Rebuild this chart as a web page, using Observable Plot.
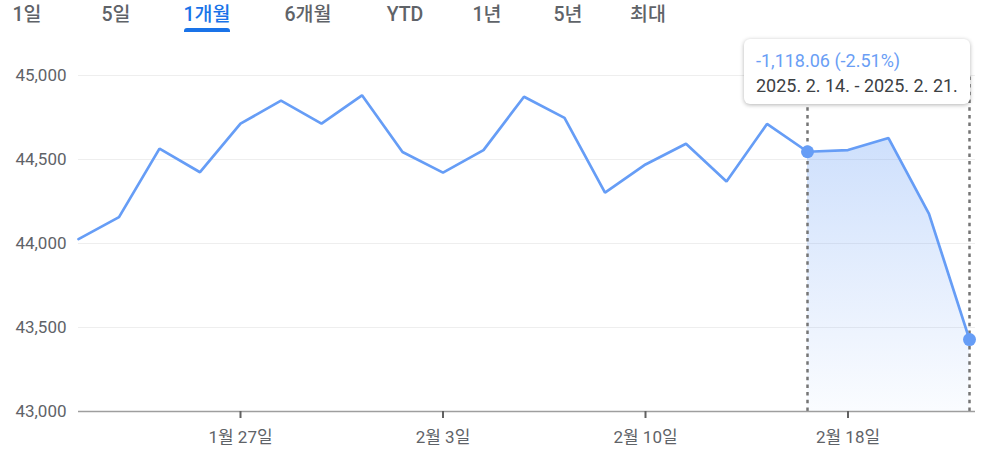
<!DOCTYPE html>
<html>
<head>
<meta charset="utf-8">
<script src="https://cdn.jsdelivr.net/npm/d3@7"></script>
<script src="https://cdn.jsdelivr.net/npm/@observablehq/plot@0.6"></script>
<style>
  html, body { margin: 0; padding: 0; background: #fff; }
  body { width: 987px; height: 456px; position: relative; overflow: hidden;
         font-family: Roboto, "Noto Sans CJK KR", sans-serif; }
  #tabs { position: relative; height: 40px; }
  .tab { position: absolute; top: 3px; font-size: 19.5px; color: #5f6368; font-weight: 500;
         transform: translateX(-50%); white-space: nowrap; line-height: 24px; }
  .tab.sel { color: #1a73e8; }
  #underline { position: absolute; left: 184px; top: 28px; width: 46px; height: 4px;
               background: #1a73e8; border-radius: 3px 3px 0 0; }
  #tip { position: absolute; left: 744px; top: 39px; width: 226px; height: 65px;
         background: #fff; border-radius: 6px; box-shadow: 0 1px 4px rgba(0,0,0,0.3);
         box-sizing: border-box; padding: 9px 0 0 12px; font-size: 18px; line-height: 25px; }
  #tip .chg { color: #6a9ef5; }
  #tip .rng { color: #3c4043; }
</style>
</head>
<body>
<div id="tabs"></div>
<div id="chart"></div>
<div id="tip"><div class="chg"></div><div class="rng"></div></div>
<script>
// ---- data ----
const tabs = ["1일", "5일", "1개월", "6개월", "YTD", "1년", "5년", "최대"];
const tabCenters = [27, 116, 207, 308, 405, 487, 568, 648];
const selectedTab = "1개월";

const dates = ["2025-01-21","2025-01-22","2025-01-23","2025-01-24","2025-01-27","2025-01-28",
  "2025-01-29","2025-01-30","2025-01-31","2025-02-03","2025-02-04","2025-02-05","2025-02-06",
  "2025-02-07","2025-02-10","2025-02-11","2025-02-12","2025-02-13","2025-02-14","2025-02-18",
  "2025-02-19","2025-02-20","2025-02-21"];
const closes = [44025.81, 44156.73, 44565.07, 44424.25, 44713.58, 44850.35, 44713.52, 44882.13,
  44544.66, 44421.91, 44556.04, 44873.28, 44747.63, 44303.40, 44470.41, 44593.65, 44368.56,
  44711.43, 44546.08, 44556.34, 44627.59, 44176.65, 43428.02];

const xTickDates = ["2025-01-27", "2025-02-03", "2025-02-10", "2025-02-18"];
const xTickLabels = ["1월 27일", "2월 3일", "2월 10일", "2월 18일"];
const yTicks = [43000, 43500, 44000, 44500, 45000];

const rangeStart = "2025-02-14";
const rangeEnd = "2025-02-21";
const tipChange = "-1,118.06 (-2.51%)";
const tipRange = "2025. 2. 14. - 2025. 2. 21.";

// ---- tabs ----
const tabsDiv = document.getElementById("tabs");
tabs.forEach((t, i) => {
  const d = document.createElement("div");
  d.className = "tab" + (t === selectedTab ? " sel" : "");
  d.style.left = tabCenters[i] + "px";
  d.textContent = t;
  tabsDiv.appendChild(d);
});
const ul = document.createElement("div"); ul.id = "underline"; tabsDiv.appendChild(ul);

document.querySelector("#tip .chg").textContent = tipChange;
document.querySelector("#tip .rng").textContent = tipRange;

// ---- chart ----
const data = dates.map((d, i) => ({i, date: d, close: closes[i]}));
const iStart = dates.indexOf(rangeStart), iEnd = dates.indexOf(rangeEnd);
const areaData = data.filter(d => d.i >= iStart && d.i <= iEnd);
const sel = [data[iStart], data[iEnd]];
const tickIdx = xTickDates.map(d => dates.indexOf(d));

const blue = "#669df6";
const defs = () => {
  const g = d3.create("svg:defs");
  const lg = g.append("linearGradient").attr("id", "areaGrad")
    .attr("x1", 0).attr("y1", 0).attr("x2", 0).attr("y2", 1);
  lg.append("stop").attr("offset", "0%").attr("stop-color", "#669df6").attr("stop-opacity", 0.32);
  lg.append("stop").attr("offset", "100%").attr("stop-color", "#669df6").attr("stop-opacity", 0.03);
  return g.node();
};

const chart = Plot.plot({
  width: 987,
  height: 416,
  marginLeft: 78,
  marginRight: 12,
  marginTop: 35,
  marginBottom: 45,
  style: {fontFamily: "Roboto, 'Noto Sans CJK KR', sans-serif", fontSize: "17px", color: "#5f6368", background: "#fff"},
  x: {domain: [0, dates.length - 1], range: [78, 969], label: null},
  y: {domain: [43000, 45000], label: null},
  marks: [
    defs,
    Plot.ruleY(yTicks.filter(v => v !== 43000), {stroke: "#eeeeee", strokeWidth: 1}),
    Plot.areaY(areaData, {x: "i", y1: 43000, y2: "close", fill: "url(#areaGrad)"}),
    Plot.ruleX(sel, {x: "i", y1: 43000, y2: 45000, stroke: "#757575", strokeWidth: 2.5, strokeDasharray: "3.5,4.2"}),
    Plot.ruleY([43000], {stroke: "#9e9e9e", strokeWidth: 1.5}),
    Plot.axisY({ticks: yTicks, tickSize: 0, tickPadding: 12, tickFormat: d3.format(","), fill: "#5f6368", label: null}),
    Plot.axisX({ticks: tickIdx, tickFormat: (d, k) => xTickLabels[k], tickSize: 7, tickPadding: 12,
      stroke: "#616161", strokeWidth: 2, fill: "#5f6368", label: null}),
    Plot.lineY(data, {x: "i", y: "close", stroke: blue, strokeWidth: 2.7, strokeLinejoin: "miter"}),
    Plot.dot(sel, {x: "i", y: "close", r: 6.5, fill: blue})
  ]
});
document.getElementById("chart").appendChild(chart);
</script>
</body>
</html>
